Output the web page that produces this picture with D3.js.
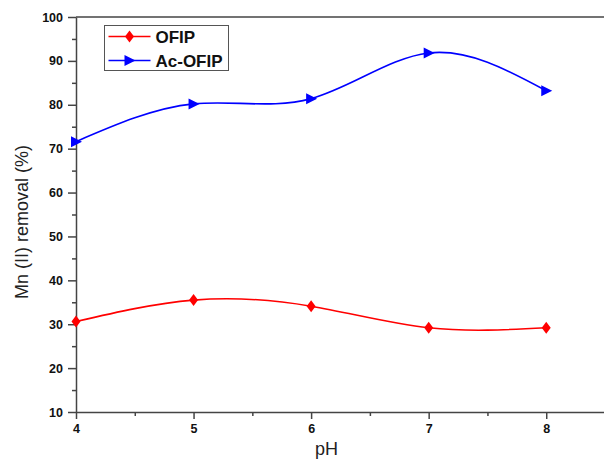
<!DOCTYPE html>
<html>
<head>
<meta charset="utf-8">
<script src="https://cdn.jsdelivr.net/npm/d3@7"></script>
<style>
  body { margin: 0; background: #fff; }
  svg { display: block; }
</style>
</head>
<body>
<svg id="chart" width="604" height="460"></svg>
<script>
// данные с графика
const phValues = [4, 5, 6, 7, 8]
const ofip = [30.6, 35.5, 34.1, 29.2, 29.2]
const acOfip = [71.6, 80.2, 81.4, 91.8, 83.2]
const xTicks = [4, 5, 6, 7, 8]
const yTicks = [10, 20, 30, 40, 50, 60, 70, 80, 90, 100]

const svg = d3.select('#chart')
const margin = { top: 17, left: 76 }
const width = 529 // 4 .. 8.5
const height = 395

const x = d3.scaleLinear().domain([4, 8.5]).range([0, width])
const y = d3.scaleLinear().domain([10, 100]).range([height, 0])

const g = svg.append('g').attr('transform', `translate(${margin.left},${margin.top})`)

// рамка сверху
g.append('line')
  .attr('x1', 0).attr('x2', width)
  .attr('y1', 0).attr('y2', 0)
  .attr('stroke', '#444').attr('stroke-width', 1.5)

// малые деления
g.append('g')
  .attr('transform', `translate(0,${height})`)
  .call(d3.axisBottom(x).tickValues(d3.range(4.5, 8.6, 1)).tickSize(4).tickFormat(''))
  .call(a => a.select('.domain').remove())
g.append('g')
  .call(d3.axisLeft(y).tickValues(d3.range(15, 100, 10)).tickSize(4).tickFormat(''))
  .call(a => a.select('.domain').remove())

// ось X
g.append('g')
  .attr('class', 'axis')
  .attr('transform', `translate(0,${height})`)
  .call(d3.axisBottom(x).tickValues(xTicks).tickSize(7).tickSizeOuter(0).tickPadding(5).tickFormat(d3.format('d')))

// ось Y
g.append('g')
  .attr('class', 'axis')
  .call(d3.axisLeft(y).tickValues(yTicks).tickSize(8).tickSizeOuter(0).tickPadding(5).tickFormat(d3.format('d')))

g.selectAll('.tick line').attr('stroke', '#444').attr('stroke-width', 1.5)
g.selectAll('.domain').attr('stroke', '#444').attr('stroke-width', 1.5)
g.selectAll('.axis text')
  .attr('fill', '#111')
  .attr('font-family', 'Arial, "Liberation Sans", sans-serif')
  .attr('font-weight', 'bold')
  .attr('font-size', '12.5px')

// подписи осей
svg.append('text')
  .text('pH')
  .attr('x', margin.left + x(6.13))
  .attr('y', 455)
  .attr('text-anchor', 'middle')
  .attr('font-family', 'Arial, "Liberation Sans", sans-serif')
  .attr('font-size', '18px')
  .attr('fill', '#222')

svg.append('text')
  .text('Mn (II) removal (%)')
  .attr('transform', `translate(28, 222) rotate(-90)`)
  .attr('text-anchor', 'middle')
  .attr('font-family', 'Arial, "Liberation Sans", sans-serif')
  .attr('font-size', '18px')
  .attr('fill', '#222')

// серии
const series = [
  { name: 'OFIP', values: ofip, color: '#ff0000', symbol: 'diamond' },
  { name: 'Ac-OFIP', values: acOfip, color: '#0000ff', symbol: 'tri' },
]

const line = d3.line()
  .x(d => x(d[0]))
  .y(d => y(d[1]))
  .curve(d3.curveNatural)

const triPath = s => `M${-s * 0.5},${-s * 0.55}L${s * 0.6},0L${-s * 0.5},${s * 0.55}Z`
const markerPath = (sym, size) => sym === 'tri' ? triPath(size) : 'M0,-6L4.5,0L0,6L-4.5,0Z'

series.forEach(s => {
  const pts = phValues.map((p, i) => [p, s.values[i]])
  g.append('path')
    .datum(pts)
    .attr('fill', 'none')
    .attr('stroke', s.color)
    .attr('stroke-width', 1.6)
    .attr('d', line)

  g.selectAll(null)
    .data(pts)
    .enter()
    .append('path')
    .attr('d', markerPath(s.symbol, 10))
    .attr('transform', d => `translate(${x(d[0])},${y(d[1])})`)
    .attr('fill', s.color)
})

// легенда
const legend = svg.append('g').attr('transform', 'translate(104.5, 25.5)')
legend.append('rect')
  .attr('width', 124)
  .attr('height', 45)
  .attr('fill', '#fff')
  .attr('stroke', '#555')
  .attr('stroke-width', 1)

series.forEach((s, i) => {
  const row = legend.append('g').attr('transform', `translate(0, ${11 + i * 24})`)
  row.append('line')
    .attr('x1', 4).attr('x2', 46)
    .attr('stroke', s.color).attr('stroke-width', 1.6)
  row.append('path')
    .attr('d', markerPath(s.symbol, 10))
    .attr('transform', 'translate(25,0)')
    .attr('fill', s.color)
  row.append('text')
    .text(s.name)
    .attr('x', 51)
    .attr('y', 6)
    .attr('font-family', 'Arial, "Liberation Sans", sans-serif')
    .attr('font-weight', 'bold')
    .attr('font-size', '17px')
    .attr('fill', '#111')
})
</script>
</body>
</html>
